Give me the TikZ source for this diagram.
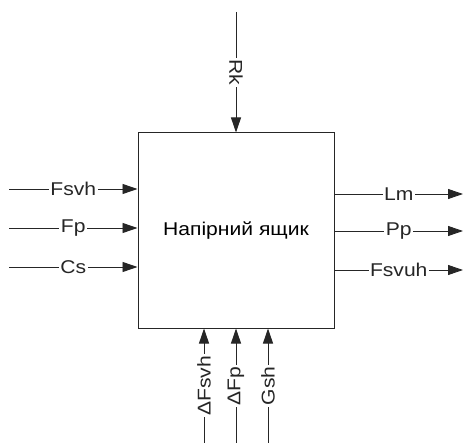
\documentclass[tikz,border=0pt]{standalone}
\usepackage{fontspec}
\setmainfont[FakeStretch=1.14]{Liberation Sans}
\usetikzlibrary{arrows.meta}
\begin{document}
\begin{tikzpicture}[x=1pt,y=-1pt,
  every node/.style={font=\fontsize{18.5}{20}\selectfont},
  arr/.style={draw=black!85,line width=0.9pt,-{Triangle[length=15pt,width=10pt]}},
  lab/.style={fill=white,inner xsep=1.5pt,inner ysep=0pt,text=black!85},
  blk/.style={draw=black!85,line width=1pt,minimum width=196pt,minimum height=195pt,inner sep=0pt}]
\useasboundingbox (0,0) rectangle (465,443);
\node[blk] (B) at (236,230.5) {Напірний ящик};
% free ends
\coordinate (l1) at (9,189);
\coordinate (l2) at (9,228);
\coordinate (l3) at (9,267);
\coordinate (r1) at (463,194);
\coordinate (r2) at (463,231);
\coordinate (r3) at (463,270);
\coordinate (t1) at (236,12);
\coordinate (b1) at (204,443);
\coordinate (b2) at (236,443);
\coordinate (b3) at (268,443);
% inputs left
\draw[arr] (l1) -- node[lab]{Fsvh} (l1 -| B.west);
\draw[arr] (l2) -- node[lab]{Fp} (l2 -| B.west);
\draw[arr] (l3) -- node[lab]{Cs} (l3 -| B.west);
% outputs right
\draw[arr] (r1 -| B.east) -- node[lab]{Lm} (r1);
\draw[arr] (r2 -| B.east) -- node[lab]{Pp} (r2);
\draw[arr] (r3 -| B.east) -- node[lab]{Fsvuh} (r3);
% top
\draw[arr] (t1) -- node[lab,rotate=-90]{Rk} (t1 |- B.north);
% bottom
\draw[arr] (b1) -- node[lab,rotate=90]{ΔFsvh} (b1 |- B.south);
\draw[arr] (b2) -- node[lab,rotate=90]{ΔFp} (b2 |- B.south);
\draw[arr] (b3) -- node[lab,rotate=90]{Gsh} (b3 |- B.south);
\end{tikzpicture}
\end{document}
